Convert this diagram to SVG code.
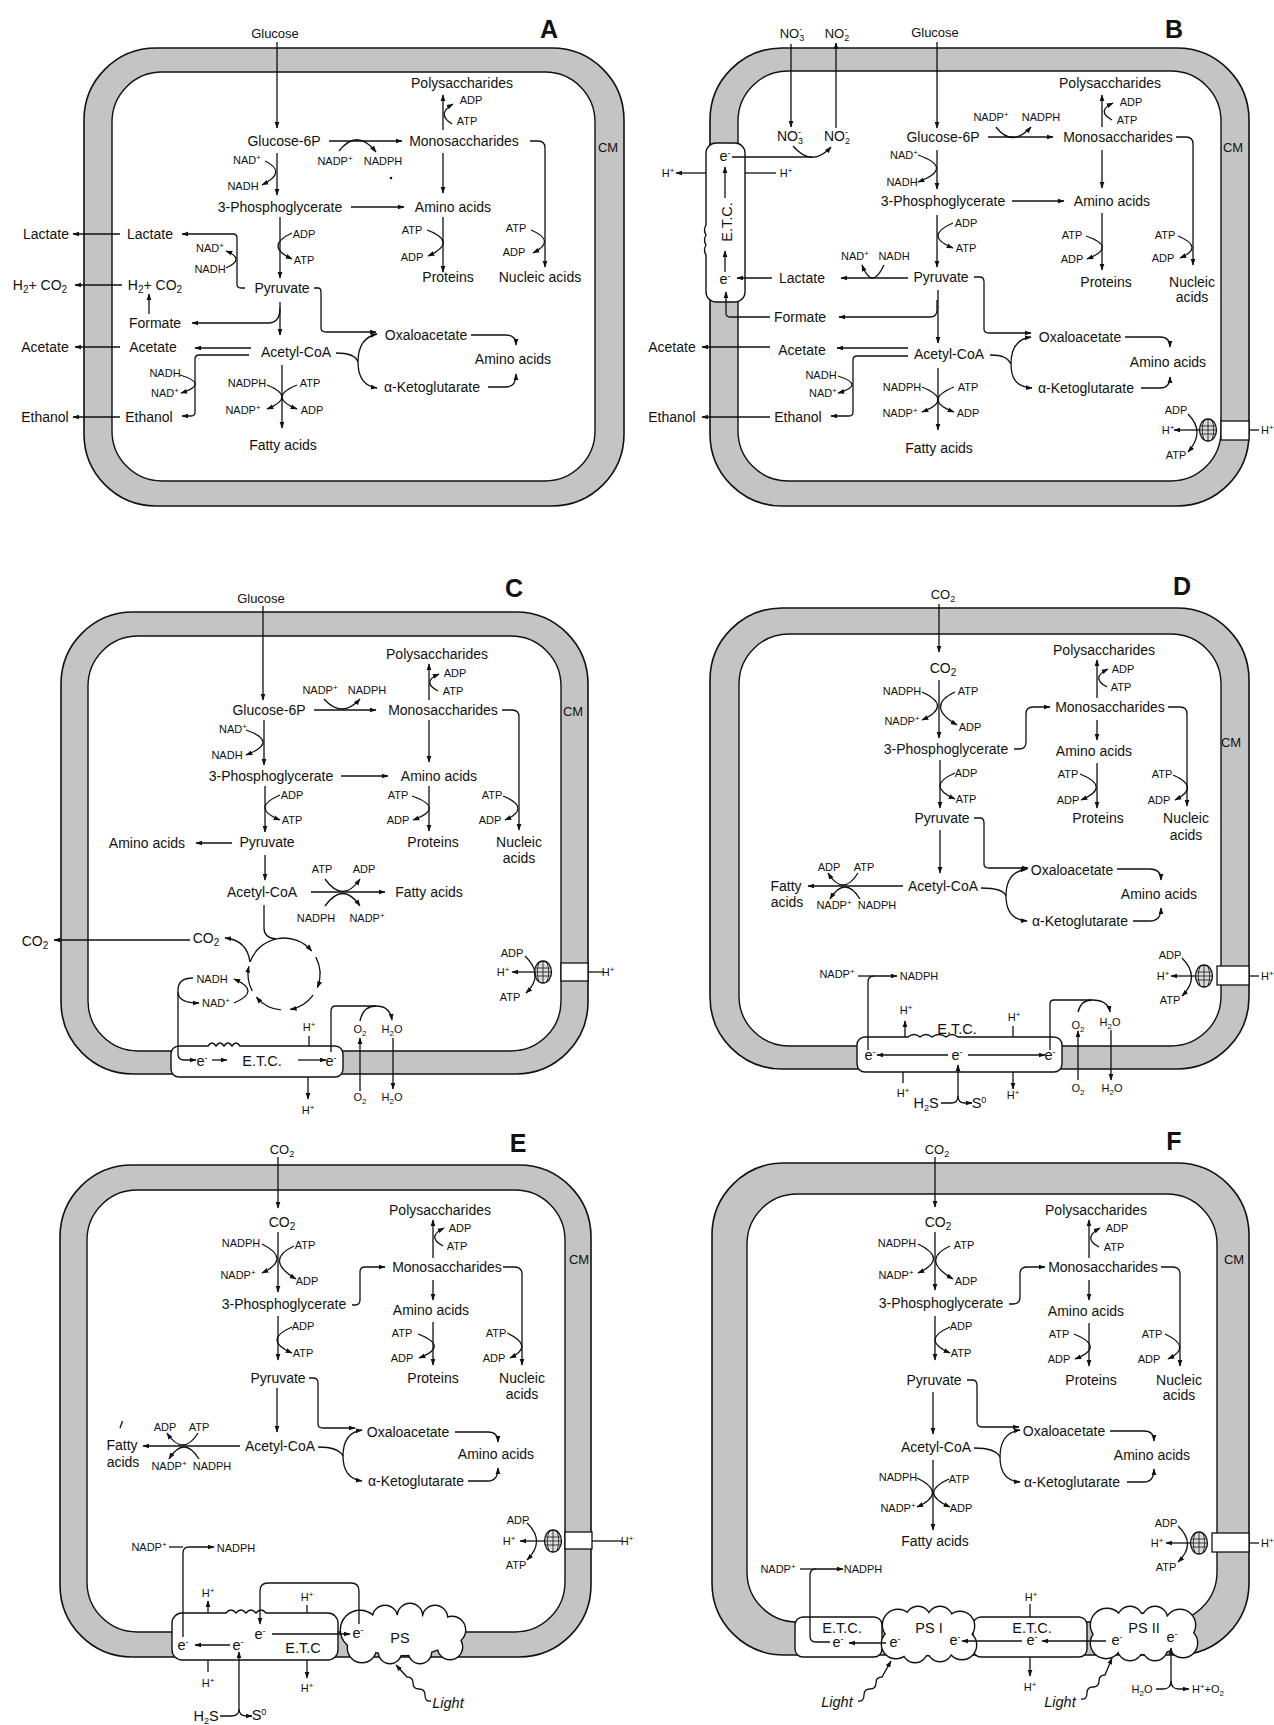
<svg xmlns="http://www.w3.org/2000/svg" xmlns:xlink="http://www.w3.org/1999/xlink" width="1274" height="1725" viewBox="0 0 1274 1725">
<style>
text{font-family:"Liberation Sans",Arial,sans-serif;text-anchor:middle;fill:#111;font-size:14px}
.s{font-size:11px}
.m{font-size:13px}
.e{font-size:14.5px}
.L{font-size:25px;font-weight:bold}
.i{font-size:14.5px;font-style:italic}
.l{fill:none;stroke:#111;stroke-width:1.3}
.a{marker-end:url(#ah)}
.mo{fill:#c4c4c4;stroke:#111;stroke-width:1.6}
.mi{fill:#fff;stroke:#111;stroke-width:1.4}
.bx{fill:#fff;stroke:#111;stroke-width:1.4}
.ch{fill:#fff;stroke:#111;stroke-width:1.3}
</style>
<defs>
<marker id="ah" viewBox="0 0 10 10" refX="9" refY="5" markerWidth="7" markerHeight="7" markerUnits="userSpaceOnUse" orient="auto"><path d="M0,1.5 L10,5 L0,8.5 z" fill="#111"/></marker>
<g id="syn"><ellipse rx="8.5" ry="11" fill="#ddd" stroke="#111" stroke-width="1.3"/><path d="M-4,-9.5 Q-7.5,0 -4,9.5 M0,-11 V11 M4,-9.5 Q7.5,0 4,9.5 M-8,-4 H8 M-8.5,0 H8.5 M-8,4 H8" fill="none" stroke="#111" stroke-width="0.8"/></g>
<g id="psE"><circle cx="360" cy="1630" r="19"/><circle cx="385" cy="1618" r="12"/><circle cx="410" cy="1616" r="12"/><circle cx="435" cy="1618" r="12"/><circle cx="452" cy="1630" r="13"/><circle cx="450" cy="1647" r="12"/><circle cx="420" cy="1652" r="11"/><circle cx="390" cy="1652" r="11"/><circle cx="362" cy="1648" r="14"/><ellipse cx="403" cy="1635" rx="50" ry="20"/></g>
<g id="ps1"><circle cx="898" cy="1625" r="15"/><circle cx="918" cy="1619" r="12"/><circle cx="940" cy="1619" r="12"/><circle cx="960" cy="1626" r="14"/><circle cx="962" cy="1645" r="14"/><circle cx="940" cy="1649" r="12"/><circle cx="915" cy="1650" r="12"/><circle cx="896" cy="1644" r="14"/><ellipse cx="929" cy="1635" rx="38" ry="20"/></g>
<g id="ps2"><circle cx="1107" cy="1625" r="16"/><circle cx="1130" cy="1619" r="12"/><circle cx="1155" cy="1619" r="12"/><circle cx="1180" cy="1625" r="15"/><circle cx="1183" cy="1643" r="14"/><circle cx="1155" cy="1648" r="12"/><circle cx="1130" cy="1648" r="12"/><circle cx="1106" cy="1643" r="15"/><ellipse cx="1144" cy="1634" rx="44" ry="20"/></g>
</defs>
<rect width="1274" height="1725" fill="#fff"/>

<!-- ================= PANEL A ================= -->
<g id="cellA"><rect class="mo" x="84" y="48" width="540" height="458" rx="72"/><rect class="mi" x="112" y="72" width="483" height="409" rx="50"/></g>
<g id="connectorsA">
<path class="l a" d="M277,42 V128"/>
<path class="l a" d="M329,141 H402"/>
<path class="l a" d="M339,151 Q357,128 376,152"/>
<path class="l a" d="M443,130 V95"/>
<path class="l a" d="M452,124 Q436,114 453,104"/>
<path class="l a" d="M277,153 V195"/>
<path class="l a" d="M265,161 Q288,172 262,185"/>
<path class="l a" d="M351,207 H404"/>
<path class="l a" d="M443,153 V193"/>
<path class="l a" d="M530,141 H538 Q545,141 545,148 V267"/>
<path class="l a" d="M531,230 Q557,241 533,253"/>
<path class="l a" d="M443,217 V272"/>
<path class="l a" d="M427,230 Q459,242 428,256"/>
<path class="l a" d="M280,217 V278"/>
<path class="l a" d="M292,233 Q264,246 292,259"/>
<path class="l a" d="M245,288 H241 Q237,288 237,284 V238 Q237,234 233,234 H182"/>
<path class="l a" d="M226,268 Q246,259 226,251"/>
<path class="l a" d="M120,234 H73"/>
<path class="l a" d="M122,285 H75"/>
<path class="l a" d="M149,314 V294"/>
<path class="l a" d="M280,302 V335"/>
<path class="l a" d="M280,308 Q280,323 268,323 H192"/>
<path class="l a" d="M314,288 H318 Q321,288 321,292 V328 Q321,332 326,332 H376"/>
<path class="l a" d="M251,348 H195"/>
<path class="l a" d="M120,347 H75"/>
<path class="l a" d="M249,355 H199 Q195,355 195,359 V412 Q195,416 191,416 H182"/>
<path class="l a" d="M180,375 Q210,384 181,393"/>
<path class="l a" d="M120,417 H73"/>
<path class="l a" d="M282,365 V428"/>
<path class="l a" d="M267,385 Q297,397 267,409"/>
<path class="l a" d="M297,385 Q267,397 297,409"/>
<path class="l" d="M336,353 C349,353 356,356 358,362"/>
<path class="l a" d="M358,362 C358,348 363,337 377,334"/>
<path class="l a" d="M358,362 C358,376 363,386 377,388"/>
<path class="l a" d="M471,335 H506 Q516,335 516,345"/>
<path class="l a" d="M488,387 H506 Q516,387 516,374"/>
<circle cx="391" cy="178" r="1.3" fill="#111"/>
</g>
<g id="nodesA">
<text class="L" x="549" y="38">A</text>
<text class="m" x="275" y="38">Glucose</text>
<text x="284" y="146">Glucose-6P</text>
<text x="464" y="146">Monosaccharides</text>
<text x="462" y="88">Polysaccharides</text>
<text class="s" x="471" y="104">ADP</text>
<text class="s" x="467" y="125">ATP</text>
<text class="s" x="335" y="165">NADP<tspan dy="-4" font-size="8">+</tspan></text>
<text class="s" x="383" y="165">NADPH</text>
<text class="s" x="247" y="164">NAD<tspan dy="-4" font-size="8">+</tspan></text>
<text class="s" x="243" y="190">NADH</text>
<text x="280" y="212">3-Phosphoglycerate</text>
<text x="453" y="212">Amino acids</text>
<text class="s" x="304" y="238">ADP</text>
<text class="s" x="304" y="264">ATP</text>
<text class="s" x="412" y="234">ATP</text>
<text class="s" x="412" y="261">ADP</text>
<text class="s" x="516" y="232">ATP</text>
<text class="s" x="514" y="256">ADP</text>
<text x="448" y="282">Proteins</text>
<text x="540" y="282">Nucleic acids</text>
<text x="150" y="239">Lactate</text>
<text x="46" y="239">Lactate</text>
<text class="s" x="210" y="252">NAD<tspan dy="-4" font-size="8">+</tspan></text>
<text class="s" x="210" y="273">NADH</text>
<text x="155" y="290">H<tspan dy="3" font-size="10">2</tspan><tspan dy="-3">+ CO</tspan><tspan dy="3" font-size="10">2</tspan></text>
<text x="40" y="290">H<tspan dy="3" font-size="10">2</tspan><tspan dy="-3">+ CO</tspan><tspan dy="3" font-size="10">2</tspan></text>
<text x="282" y="293">Pyruvate</text>
<text x="155" y="328">Formate</text>
<text x="426" y="340">Oxaloacetate</text>
<text x="153" y="352">Acetate</text>
<text x="45" y="352">Acetate</text>
<text x="296" y="357">Acetyl-CoA</text>
<text x="513" y="364">Amino acids</text>
<text class="s" x="165" y="377">NADH</text>
<text class="s" x="165" y="397">NAD<tspan dy="-4" font-size="8">+</tspan></text>
<text class="s" x="247" y="387">NADPH</text>
<text class="s" x="310" y="387">ATP</text>
<text class="s" x="243" y="414">NADP<tspan dy="-4" font-size="8">+</tspan></text>
<text class="s" x="312" y="414">ADP</text>
<text x="432" y="392">α-Ketoglutarate</text>
<text x="149" y="422">Ethanol</text>
<text x="45" y="422">Ethanol</text>
<text x="283" y="450">Fatty acids</text>
<text class="m" x="608" y="152">CM</text>
</g>

<!-- ================= PANEL B ================= -->
<g id="cellB"><rect class="mo" x="710" y="48" width="539" height="458" rx="72"/><rect class="mi" x="738" y="71" width="483" height="410" rx="50"/>
<path class="bx" d="M716,143 H735 A10,10 0 0 1 745,153 V292 A10,10 0 0 1 735,302 H716 A10,10 0 0 1 706,292 V255 q-3,-5 0,-10 q-3,-5 0,-10 q-3,-5 0,-10 V153 A10,10 0 0 1 716,143 Z"/>
<rect class="ch" x="1221" y="421" width="28" height="19"/>
<use xlink:href="#syn" x="1208" y="430"/>
</g>
<g id="connectorsB">
<path class="l a" d="M937,42 V128"/>
<path class="l a" d="M791,44 V127"/>
<path class="l a" d="M836,128 V43"/>
<path class="l a" d="M793,146 Q812,168 831,147"/>
<path class="l" d="M732,157 H812"/>
<path class="l a" d="M725,272 V251"/>
<path class="l a" d="M725,198 V167"/>
<path class="l a" d="M706,173 H676"/>
<path class="l" d="M776,173 H745"/>
<path class="l a" d="M772,278 H737"/>
<path class="l a" d="M770,317 H730 Q726,317 726,313 V292"/>
<path class="l a" d="M988,137 H1053"/>
<path class="l a" d="M996,127 Q1012,148 1031,127"/>
<path class="l a" d="M1102,127 V95"/>
<path class="l a" d="M1112,120 Q1096,111 1113,103"/>
<path class="l a" d="M1176,137 H1186 Q1193,137 1193,144 V265"/>
<path class="l a" d="M1178,236 Q1205,247 1180,258"/>
<path class="l a" d="M1102,150 V188"/>
<path class="l a" d="M937,150 V189"/>
<path class="l a" d="M918,155 Q955,168 918,182"/>
<path class="l a" d="M1012,201 H1064"/>
<path class="l a" d="M937,215 V267"/>
<path class="l a" d="M953,223 Q923,236 953,248"/>
<path class="l a" d="M1102,213 V270"/>
<path class="l a" d="M1086,236 Q1118,247 1087,259"/>
<path class="l a" d="M908,278 H841"/>
<path class="l a" d="M884,265 Q872,291 862,265"/>
<path class="l a" d="M937,300 V310 Q937,317 930,317 H839"/>
<path class="l a" d="M974,277 H980 Q984,277 984,282 V329 Q984,333 989,333 H1031"/>
<path class="l a" d="M938,290 V343"/>
<path class="l a" d="M908,348 H837"/>
<path class="l a" d="M770,347 H702"/>
<path class="l a" d="M908,356 H857 Q853,356 853,360 V412 Q853,416 849,416 H831"/>
<path class="l a" d="M838,376 Q866,385 838,393"/>
<path class="l a" d="M770,417 H702"/>
<path class="l a" d="M938,368 V430"/>
<path class="l a" d="M922,387 Q954,400 922,412"/>
<path class="l a" d="M954,387 Q922,400 954,412"/>
<path class="l" d="M990,355 C1003,355 1008,358 1011,364"/>
<path class="l a" d="M1011,364 C1011,350 1016,339 1031,337"/>
<path class="l a" d="M1011,364 C1011,378 1016,387 1032,388"/>
<path class="l a" d="M1125,337 H1160 Q1170,337 1170,347"/>
<path class="l a" d="M1141,388 H1160 Q1170,388 1170,377"/>
<path class="l" d="M1259,430 H1249"/>
<path class="l a" d="M1199,430 H1174"/>
<path class="l a" d="M1188,414 Q1206,432 1188,452"/>
</g>
<g id="nodesB">
<text class="L" x="1174" y="38">B</text>
<text class="m" x="935" y="37">Glucose</text>
<text class="m" x="792" y="38">NO<tspan dy="3" font-size="9">3</tspan><tspan dy="-9" dx="-5" font-size="9">-</tspan></text>
<text class="m" x="837" y="38">NO<tspan dy="3" font-size="9">2</tspan><tspan dy="-9" dx="-5" font-size="9">-</tspan></text>
<text x="790" y="141">NO<tspan dy="3" font-size="9">3</tspan><tspan dy="-9" dx="-5" font-size="9">-</tspan></text>
<text x="837" y="141">NO<tspan dy="3" font-size="9">2</tspan><tspan dy="-9" dx="-5" font-size="9">-</tspan></text>
<text class="e" x="725" y="161">e<tspan dy="-5" font-size="9">-</tspan></text>
<text class="e" x="725" y="284">e<tspan dy="-5" font-size="9">-</tspan></text>
<text class="e" x="727" y="227" transform="rotate(-90 727 222)">E.T.C.</text>
<text class="s" x="668" y="177">H<tspan dy="-4" font-size="8">+</tspan></text>
<text class="s" x="786" y="177">H<tspan dy="-4" font-size="8">+</tspan></text>
<text class="s" x="991" y="121">NADP<tspan dy="-4" font-size="8">+</tspan></text>
<text class="s" x="1041" y="121">NADPH</text>
<text x="943" y="142">Glucose-6P</text>
<text x="1118" y="142">Monosaccharides</text>
<text x="1110" y="88">Polysaccharides</text>
<text class="s" x="1131" y="106">ADP</text>
<text class="s" x="1127" y="124">ATP</text>
<text class="s" x="904" y="159">NAD<tspan dy="-4" font-size="8">+</tspan></text>
<text class="s" x="902" y="186">NADH</text>
<text x="943" y="206">3-Phosphoglycerate</text>
<text x="1112" y="206">Amino acids</text>
<text class="s" x="966" y="227">ADP</text>
<text class="s" x="966" y="252">ATP</text>
<text class="s" x="1072" y="239">ATP</text>
<text class="s" x="1072" y="263">ADP</text>
<text class="s" x="1165" y="239">ATP</text>
<text class="s" x="1163" y="262">ADP</text>
<text class="s" x="855" y="260">NAD<tspan dy="-4" font-size="8">+</tspan></text>
<text class="s" x="894" y="260">NADH</text>
<text x="941" y="282">Pyruvate</text>
<text x="802" y="283">Lactate</text>
<text x="1106" y="287">Proteins</text>
<text x="1192" y="287">Nucleic</text>
<text x="1192" y="302">acids</text>
<text x="800" y="322">Formate</text>
<text x="1080" y="342">Oxaloacetate</text>
<text x="802" y="355">Acetate</text>
<text x="672" y="352">Acetate</text>
<text x="949" y="359">Acetyl-CoA</text>
<text x="1168" y="367">Amino acids</text>
<text class="s" x="821" y="379">NADH</text>
<text class="s" x="823" y="397">NAD<tspan dy="-4" font-size="8">+</tspan></text>
<text class="s" x="902" y="391">NADPH</text>
<text class="s" x="968" y="391">ATP</text>
<text class="s" x="900" y="417">NADP<tspan dy="-4" font-size="8">+</tspan></text>
<text class="s" x="968" y="417">ADP</text>
<text x="1086" y="393">α-Ketoglutarate</text>
<text x="798" y="422">Ethanol</text>
<text x="672" y="422">Ethanol</text>
<text x="939" y="453">Fatty acids</text>
<text class="m" x="1233" y="152">CM</text>
<text class="s" x="1176" y="414">ADP</text>
<text class="s" x="1168" y="434">H<tspan dy="-4" font-size="8">+</tspan></text>
<text class="s" x="1176" y="459">ATP</text>
<text class="s" x="1261" y="434" style="text-anchor:start">H<tspan dy="-4" font-size="8">+</tspan></text>
</g>

<!-- ================= PANEL C ================= -->
<g id="cellC"><rect class="mo" x="61" y="612" width="527" height="462" rx="72"/><rect class="mi" x="88" y="636" width="473" height="415" rx="50"/>
<path class="bx" d="M179,1046 H208 Q212,1040 216,1046 Q220,1040 224,1046 Q228,1040 232,1046 Q236,1040 240,1046 H335 A8,8 0 0 1 343,1054 V1069 A8,8 0 0 1 335,1077 H179 A8,8 0 0 1 171,1069 V1054 A8,8 0 0 1 179,1046 Z"/>
<rect class="ch" x="561" y="963" width="27" height="18"/>
<use xlink:href="#syn" x="543" y="972"/>
</g>
<g id="connectorsC">
<path class="l a" d="M263,606 V700"/>
<path class="l a" d="M314,710 H376"/>
<path class="l a" d="M324,699 Q342,719 360,699"/>
<path class="l a" d="M429,700 V664"/>
<path class="l a" d="M438,691 Q421,682 439,674"/>
<path class="l a" d="M502,710 H512 Q519,710 519,717 V830"/>
<path class="l a" d="M503,796 Q532,808 505,820"/>
<path class="l a" d="M429,720 V762"/>
<path class="l a" d="M264,720 V765"/>
<path class="l a" d="M246,730 Q280,742 246,755"/>
<path class="l a" d="M341,776 H388"/>
<path class="l a" d="M265,786 V832"/>
<path class="l a" d="M280,795 Q250,808 280,820"/>
<path class="l a" d="M429,786 V831"/>
<path class="l a" d="M412,796 Q446,808 413,820"/>
<path class="l a" d="M232,843 H196"/>
<path class="l a" d="M265,855 V880"/>
<path class="l a" d="M311,892 H385"/>
<path class="l a" d="M325,879 Q343,904 360,879"/>
<path class="l a" d="M325,906 Q343,881 360,906"/>
<path class="l" d="M264,905 V928 Q264,938 276,939"/>
<path class="l a" d="M250.2,961.7 A36,36 0 0 1 311.6,950.9"/>
<path class="l a" d="M315.8,957.1 A36,36 0 0 1 317.4,987.5"/>
<path class="l a" d="M313.1,995.2 A36,36 0 0 1 290.3,1009.5"/>
<path class="l a" d="M280.9,1009.9 A36,36 0 0 1 256.4,997.1"/>
<path class="l a" d="M252.2,990.9 A36,36 0 0 1 248.8,966.5"/>
<path class="l a" d="M250,962 Q247,940 225,938"/>
<path class="l a" d="M190,940 H54"/>
<path class="l a" d="M234,1003 Q262,991 234,979"/>
<path class="l a" d="M193,978 Q178,978 178,990 V1054 Q178,1060 184,1060 H196"/>
<path class="l a" d="M178,992 Q178,1003 199,1003"/>
<path class="l a" d="M212,1060 H227"/>
<path class="l a" d="M298,1060 H326"/>
<path class="l" d="M309,1036 V1046"/>
<path class="l a" d="M308,1077 V1099"/>
<path class="l a" d="M331,1052 V1011 Q331,1006 336,1006 H376 Q390,1006 392,1020"/>
<path class="l" d="M360,1021 Q363,1006 376,1006"/>
<path class="l a" d="M360,1091 V1038"/>
<path class="l a" d="M393,1038 V1089"/>
<path class="l" d="M604,972 H588"/>
<path class="l a" d="M534,972 H512"/>
<path class="l a" d="M525,956 Q545,975 526,993"/>
</g>
<g id="nodesC">
<text class="L" x="514" y="597">C</text>
<text class="m" x="261" y="603">Glucose</text>
<text x="437" y="659">Polysaccharides</text>
<text class="s" x="455" y="677">ADP</text>
<text class="s" x="453" y="695">ATP</text>
<text class="s" x="320" y="694">NADP<tspan dy="-4" font-size="8">+</tspan></text>
<text class="s" x="367" y="694">NADPH</text>
<text x="269" y="715">Glucose-6P</text>
<text x="443" y="715">Monosaccharides</text>
<text class="m" x="573" y="716">CM</text>
<text class="s" x="233" y="733">NAD<tspan dy="-4" font-size="8">+</tspan></text>
<text class="s" x="227" y="759">NADH</text>
<text x="271" y="781">3-Phosphoglycerate</text>
<text x="439" y="781">Amino acids</text>
<text class="s" x="292" y="799">ADP</text>
<text class="s" x="292" y="824">ATP</text>
<text class="s" x="398" y="799">ATP</text>
<text class="s" x="398" y="824">ADP</text>
<text class="s" x="492" y="799">ATP</text>
<text class="s" x="490" y="824">ADP</text>
<text x="147" y="848">Amino acids</text>
<text x="267" y="847">Pyruvate</text>
<text x="433" y="847">Proteins</text>
<text x="519" y="847">Nucleic</text>
<text x="519" y="863">acids</text>
<text class="s" x="322" y="873">ATP</text>
<text class="s" x="364" y="873">ADP</text>
<text x="262" y="897">Acetyl-CoA</text>
<text x="429" y="897">Fatty acids</text>
<text class="s" x="316" y="922">NADPH</text>
<text class="s" x="367" y="922">NADP<tspan dy="-4" font-size="8">+</tspan></text>
<text x="206" y="943">CO<tspan dy="3" font-size="10">2</tspan></text>
<text x="35" y="946">CO<tspan dy="3" font-size="10">2</tspan></text>
<text class="s" x="212" y="983">NADH</text>
<text class="s" x="216" y="1007">NAD<tspan dy="-4" font-size="8">+</tspan></text>
<text class="s" x="512" y="957">ADP</text>
<text class="s" x="503" y="976">H<tspan dy="-4" font-size="8">+</tspan></text>
<text class="s" x="510" y="1001">ATP</text>
<text class="s" x="608" y="976">H<tspan dy="-4" font-size="8">+</tspan></text>
<text class="s" x="309" y="1031">H<tspan dy="-4" font-size="8">+</tspan></text>
<text class="s" x="360" y="1033">O<tspan dy="3" font-size="8">2</tspan></text>
<text class="s" x="392" y="1033">H<tspan dy="3" font-size="8">2</tspan><tspan dy="-3">O</tspan></text>
<text class="e" x="202" y="1066">e<tspan dy="-5" font-size="9">-</tspan></text>
<text class="e" x="262" y="1066">E.T.C.</text>
<text class="e" x="331" y="1066">e<tspan dy="-5" font-size="9">-</tspan></text>
<text class="s" x="360" y="1101">O<tspan dy="3" font-size="8">2</tspan></text>
<text class="s" x="392" y="1101">H<tspan dy="3" font-size="8">2</tspan><tspan dy="-3">O</tspan></text>
<text class="s" x="308" y="1114">H<tspan dy="-4" font-size="8">+</tspan></text>
</g>

<!-- ================= PANEL D ================= -->
<g id="cellD"><rect class="mo" x="710" y="608" width="539" height="461" rx="72"/><rect class="mi" x="739" y="634" width="482" height="412" rx="50"/>
<path class="bx" d="M865,1037 H908 q6,-5 12,0 q6,-5 12,0 q7,-5 14,0 q6,-5 12,0 H1054 A8,8 0 0 1 1062,1045 V1064 A8,8 0 0 1 1054,1072 H865 A8,8 0 0 1 857,1064 V1045 A8,8 0 0 1 865,1037 Z"/>
<rect class="ch" x="1217" y="966" width="32" height="19"/>
<use xlink:href="#syn" x="1204" y="976"/>
</g>
<g id="connectorsD">
<path class="l a" d="M939,604 V652"/>
<path class="l a" d="M939,680 V738"/>
<path class="l a" d="M922,692 Q953,706 922,720"/>
<path class="l a" d="M955,692 Q925,706 957,725"/>
<path class="l a" d="M1014,749 H1019 Q1026,749 1026,742 V714 Q1026,707 1033,707 H1050"/>
<path class="l a" d="M1097,698 V660"/>
<path class="l a" d="M1107,687 Q1090,678 1108,669"/>
<path class="l a" d="M1168,707 H1180 Q1187,707 1187,714 V806"/>
<path class="l a" d="M1173,775 Q1201,787 1175,800"/>
<path class="l a" d="M1097,720 V740"/>
<path class="l a" d="M940,760 V808"/>
<path class="l a" d="M955,773 Q925,786 955,799"/>
<path class="l a" d="M1097,763 V808"/>
<path class="l a" d="M1080,774 Q1112,787 1081,800"/>
<path class="l a" d="M940,830 V873"/>
<path class="l a" d="M974,818 H980 Q984,818 984,823 V864 Q984,868 989,868 H1028"/>
<path class="l a" d="M903,886 H808"/>
<path class="l a" d="M858,873 Q843,897 828,873"/>
<path class="l a" d="M860,899 Q845,875 830,899"/>
<path class="l" d="M981,888 C996,888 1004,890 1006,896"/>
<path class="l a" d="M1006,896 C1006,882 1011,871 1027,869"/>
<path class="l a" d="M1006,896 C1006,910 1011,920 1027,921"/>
<path class="l a" d="M1117,869 H1150 Q1161,869 1161,880"/>
<path class="l a" d="M1133,921 H1150 Q1161,921 1161,908"/>
<path class="l" d="M1259,976 H1249"/>
<path class="l a" d="M1195,976 H1171"/>
<path class="l a" d="M1182,958 Q1201,977 1182,996"/>
<path class="l" d="M858,976 H874"/>
<path class="l a" d="M868,1050 V982 Q868,976 874,976 H897"/>
<path class="l a" d="M948,1055 H877"/>
<path class="l a" d="M968,1055 H1045"/>
<path class="l a" d="M905,1037 V1021"/>
<path class="l" d="M1013,1026 V1037"/>
<path class="l" d="M903,1072 V1083"/>
<path class="l a" d="M1013,1072 V1089"/>
<path class="l a" d="M941,1103 H951 Q958,1103 958,1096 V1065"/>
<path class="l a" d="M958,1096 Q958,1103 965,1103 H972"/>
<path class="l a" d="M1050,1050 V1004 Q1050,1000 1054,1000 H1092 Q1108,1000 1110,1012"/>
<path class="l" d="M1078,1012 Q1081,1000 1092,1000"/>
<path class="l a" d="M1078,1080 V1031"/>
<path class="l a" d="M1111,1030 V1080"/>
</g>
<g id="nodesD">
<text class="L" x="1182" y="595">D</text>
<text class="m" x="943" y="599">CO<tspan dy="3" font-size="9">2</tspan></text>
<text x="943" y="673">CO<tspan dy="3" font-size="10">2</tspan></text>
<text x="1104" y="655">Polysaccharides</text>
<text class="s" x="1123" y="673">ADP</text>
<text class="s" x="1121" y="691">ATP</text>
<text class="s" x="902" y="695">NADPH</text>
<text class="s" x="968" y="695">ATP</text>
<text class="s" x="902" y="725">NADP<tspan dy="-4" font-size="8">+</tspan></text>
<text class="s" x="970" y="731">ADP</text>
<text x="1110" y="712">Monosaccharides</text>
<text class="m" x="1231" y="747">CM</text>
<text x="946" y="754">3-Phosphoglycerate</text>
<text x="1094" y="756">Amino acids</text>
<text class="s" x="966" y="777">ADP</text>
<text class="s" x="966" y="803">ATP</text>
<text class="s" x="1068" y="778">ATP</text>
<text class="s" x="1068" y="804">ADP</text>
<text class="s" x="1162" y="778">ATP</text>
<text class="s" x="1159" y="804">ADP</text>
<text x="942" y="823">Pyruvate</text>
<text x="1098" y="823">Proteins</text>
<text x="1186" y="823">Nucleic</text>
<text x="1186" y="840">acids</text>
<text class="s" x="829" y="871">ADP</text>
<text class="s" x="864" y="871">ATP</text>
<text x="1072" y="875">Oxaloacetate</text>
<text x="786" y="891">Fatty</text>
<text x="787" y="907">acids</text>
<text x="943" y="891">Acetyl-CoA</text>
<text x="1159" y="899">Amino acids</text>
<text class="s" x="834" y="909">NADP<tspan dy="-4" font-size="8">+</tspan></text>
<text class="s" x="877" y="909">NADPH</text>
<text x="1080" y="926">α-Ketoglutarate</text>
<text class="s" x="1170" y="959">ADP</text>
<text class="s" x="1163" y="980">H<tspan dy="-4" font-size="8">+</tspan></text>
<text class="s" x="1170" y="1004">ATP</text>
<text class="s" x="1261" y="980" style="text-anchor:start">H<tspan dy="-4" font-size="8">+</tspan></text>
<text class="s" x="837" y="978">NADP<tspan dy="-4" font-size="8">+</tspan></text>
<text class="s" x="919" y="980">NADPH</text>
<text class="s" x="906" y="1014">H<tspan dy="-4" font-size="8">+</tspan></text>
<text class="e" x="957" y="1034">E.T.C.</text>
<text class="s" x="1014" y="1021">H<tspan dy="-4" font-size="8">+</tspan></text>
<text class="s" x="1078" y="1029">O<tspan dy="3" font-size="8">2</tspan></text>
<text class="s" x="1110" y="1026">H<tspan dy="3" font-size="8">2</tspan><tspan dy="-3">O</tspan></text>
<text class="e" x="870" y="1060">e<tspan dy="-5" font-size="9">-</tspan></text>
<text class="e" x="957" y="1060">e<tspan dy="-5" font-size="9">-</tspan></text>
<text class="e" x="1050" y="1060">e<tspan dy="-5" font-size="9">-</tspan></text>
<text class="s" x="1078" y="1092">O<tspan dy="3" font-size="8">2</tspan></text>
<text class="s" x="1112" y="1092">H<tspan dy="3" font-size="8">2</tspan><tspan dy="-3">O</tspan></text>
<text class="s" x="903" y="1097">H<tspan dy="-4" font-size="8">+</tspan></text>
<text class="e" x="926" y="1108">H<tspan dy="3" font-size="9">2</tspan><tspan dy="-3">S</tspan></text>
<text class="e" x="979" y="1108">S<tspan dy="-5" font-size="9">0</tspan></text>
<text class="s" x="1013" y="1099">H<tspan dy="-4" font-size="8">+</tspan></text>
</g>

<!-- ================= PANEL E ================= -->
<g id="cellE"><rect class="mo" x="60" y="1165" width="531" height="492" rx="72"/><rect class="mi" x="87" y="1190" width="478" height="442" rx="50"/>
<path class="bx" d="M182,1613 H226 Q231,1607 236,1613 Q241,1607 246,1613 Q251,1607 256,1613 Q261,1607 266,1613 H328 A10,10 0 0 1 338,1623 V1650 A10,10 0 0 1 328,1660 H182 A10,10 0 0 1 172,1650 V1623 A10,10 0 0 1 182,1613 Z"/>
<use xlink:href="#psE" fill="#fff" stroke="#111" stroke-width="2.8"/>
<use xlink:href="#psE" fill="#fff" stroke="none"/>
<rect class="ch" x="565" y="1532" width="27" height="17"/>
<use xlink:href="#syn" x="553" y="1541"/>
</g>
<g id="connectorsE">
<path class="l a" d="M278,1157 V1208"/>
<path class="l a" d="M278,1232 V1292"/>
<path class="l a" d="M262,1244 Q292,1259 262,1273"/>
<path class="l a" d="M294,1246 Q264,1260 296,1279"/>
<path class="l a" d="M352,1305 H355 Q360,1305 360,1300 V1272 Q360,1267 365,1267 H385"/>
<path class="l a" d="M433,1258 V1220"/>
<path class="l a" d="M443,1246 Q426,1237 444,1228"/>
<path class="l a" d="M503,1267 H514 Q522,1267 522,1274 V1365"/>
<path class="l a" d="M507,1333 Q535,1346 510,1358"/>
<path class="l a" d="M433,1280 V1300"/>
<path class="l a" d="M278,1316 V1360"/>
<path class="l a" d="M292,1327 Q262,1340 292,1353"/>
<path class="l a" d="M433,1322 V1365"/>
<path class="l a" d="M418,1334 Q450,1346 419,1358"/>
<path class="l a" d="M277,1388 V1432"/>
<path class="l a" d="M309,1378 H313 Q318,1378 318,1383 V1424 Q318,1428 323,1428 H355"/>
<path class="l a" d="M240,1446 H143"/>
<path class="l a" d="M198,1433 Q183,1457 167,1433"/>
<path class="l a" d="M199,1459 Q184,1435 169,1459"/>
<path class="l" d="M318,1447 C332,1447 340,1450 343,1456"/>
<path class="l a" d="M343,1456 C343,1442 348,1432 362,1430"/>
<path class="l a" d="M343,1456 C343,1470 348,1479 362,1481"/>
<path class="l a" d="M455,1432 H488 Q498,1432 498,1442"/>
<path class="l a" d="M468,1481 H488 Q498,1481 498,1468"/>
<path class="l" d="M120,1428 L122.5,1421" stroke-width="1"/>
<path class="l" d="M622,1541 H592"/>
<path class="l a" d="M544,1541 H520"/>
<path class="l a" d="M527,1523 Q546,1541 527,1560"/>
<path class="l" d="M169,1547 H183"/>
<path class="l a" d="M183,1637 V1553 Q183,1547 189,1547 H214"/>
<path class="l a" d="M230,1645 H195"/>
<path class="l a" d="M272,1634 H350"/>
<path class="l a" d="M359,1624 V1591 Q359,1583 351,1583 H268 Q260,1583 260,1591 V1624"/>
<path class="l" d="M307,1605 V1613"/>
<path class="l a" d="M208,1613 V1601"/>
<path class="l" d="M208,1660 V1672"/>
<path class="l a" d="M307,1660 V1678"/>
<path class="l a" d="M239,1709 V1652"/>
<path class="l" d="M220,1716 H231 Q239,1716 239,1709"/>
<path class="l a" d="M239,1709 Q239,1716 247,1716 H252"/>
<path class="l a" d="M431,1701 q-6,1 -6,-6 q0,-6 -6,-6 q-6,0 -6,-6 q0,-6 -6,-6 L396,1665"/>
</g>
<g id="nodesE">
<text class="L" x="518" y="1152">E</text>
<text class="m" x="282" y="1154">CO<tspan dy="3" font-size="9">2</tspan></text>
<text x="282" y="1227">CO<tspan dy="3" font-size="10">2</tspan></text>
<text x="440" y="1215">Polysaccharides</text>
<text class="s" x="460" y="1232">ADP</text>
<text class="s" x="457" y="1250">ATP</text>
<text class="s" x="241" y="1247">NADPH</text>
<text class="s" x="305" y="1249">ATP</text>
<text class="s" x="238" y="1279">NADP<tspan dy="-4" font-size="8">+</tspan></text>
<text class="s" x="307" y="1285">ADP</text>
<text x="447" y="1272">Monosaccharides</text>
<text class="m" x="579" y="1264">CM</text>
<text x="284" y="1309">3-Phosphoglycerate</text>
<text x="431" y="1315">Amino acids</text>
<text class="s" x="303" y="1330">ADP</text>
<text class="s" x="303" y="1357">ATP</text>
<text class="s" x="402" y="1337">ATP</text>
<text class="s" x="402" y="1362">ADP</text>
<text class="s" x="496" y="1337">ATP</text>
<text class="s" x="494" y="1362">ADP</text>
<text x="278" y="1383">Pyruvate</text>
<text x="433" y="1383">Proteins</text>
<text x="522" y="1383">Nucleic</text>
<text x="522" y="1399">acids</text>
<text class="s" x="165" y="1431">ADP</text>
<text class="s" x="199" y="1431">ATP</text>
<text x="408" y="1437">Oxaloacetate</text>
<text x="122" y="1450">Fatty</text>
<text x="123" y="1467">acids</text>
<text x="280" y="1451">Acetyl-CoA</text>
<text x="496" y="1459">Amino acids</text>
<text class="s" x="169" y="1470">NADP<tspan dy="-4" font-size="8">+</tspan></text>
<text class="s" x="212" y="1470">NADPH</text>
<text x="416" y="1486">α-Ketoglutarate</text>
<text class="s" x="518" y="1524">ADP</text>
<text class="s" x="509" y="1545">H<tspan dy="-4" font-size="8">+</tspan></text>
<text class="s" x="516" y="1569">ATP</text>
<text class="s" x="627" y="1545">H<tspan dy="-4" font-size="8">+</tspan></text>
<text class="s" x="149" y="1551">NADP<tspan dy="-4" font-size="8">+</tspan></text>
<text class="s" x="236" y="1552">NADPH</text>
<text class="s" x="208" y="1597">H<tspan dy="-4" font-size="8">+</tspan></text>
<text class="s" x="307" y="1601">H<tspan dy="-4" font-size="8">+</tspan></text>
<text class="e" x="260" y="1639">e<tspan dy="-5" font-size="9">-</tspan></text>
<text class="e" x="358" y="1638">e<tspan dy="-5" font-size="9">-</tspan></text>
<text class="e" x="400" y="1643">PS</text>
<text class="e" x="183" y="1650">e<tspan dy="-5" font-size="9">-</tspan></text>
<text class="e" x="238" y="1650">e<tspan dy="-5" font-size="9">-</tspan></text>
<text class="e" x="303" y="1653">E.T.C</text>
<text class="s" x="208" y="1687">H<tspan dy="-4" font-size="8">+</tspan></text>
<text class="s" x="307" y="1692">H<tspan dy="-4" font-size="8">+</tspan></text>
<text class="i" x="448" y="1708">Light</text>
<text class="e" x="206" y="1721">H<tspan dy="3" font-size="9">2</tspan><tspan dy="-3">S</tspan></text>
<text class="e" x="259" y="1720">S<tspan dy="-5" font-size="9">0</tspan></text>
</g>

<!-- ================= PANEL F ================= -->
<g id="cellF"><rect class="mo" x="712" y="1163" width="537" height="492" rx="72"/><rect class="mi" x="747" y="1194" width="470" height="428" rx="50"/>
<rect class="bx" x="795" y="1617" width="87" height="40" rx="8"/>
<rect class="bx" x="973" y="1617" width="114" height="40" rx="8"/>
<use xlink:href="#ps1" fill="#fff" stroke="#111" stroke-width="2.8"/>
<use xlink:href="#ps1" fill="#fff" stroke="none"/>
<use xlink:href="#ps2" fill="#fff" stroke="#111" stroke-width="2.8"/>
<use xlink:href="#ps2" fill="#fff" stroke="none"/>
<rect class="ch" x="1212" y="1533" width="37" height="19"/>
<use xlink:href="#syn" x="1199" y="1543"/>
</g>
<g id="connectorsF">
<path class="l a" d="M935,1157 V1207"/>
<path class="l a" d="M935,1232 V1290"/>
<path class="l a" d="M918,1244 Q949,1259 918,1273"/>
<path class="l a" d="M950,1246 Q920,1260 953,1279"/>
<path class="l a" d="M1009,1304 H1013 Q1020,1304 1020,1297 V1274 Q1020,1267 1027,1267 H1045"/>
<path class="l a" d="M1089,1258 V1220"/>
<path class="l a" d="M1099,1247 Q1082,1238 1100,1228"/>
<path class="l a" d="M1161,1267 H1172 Q1180,1267 1180,1274 V1366"/>
<path class="l a" d="M1165,1334 Q1193,1347 1168,1359"/>
<path class="l a" d="M1089,1280 V1300"/>
<path class="l a" d="M935,1316 V1360"/>
<path class="l a" d="M950,1327 Q920,1340 950,1353"/>
<path class="l a" d="M1089,1323 V1366"/>
<path class="l a" d="M1074,1334 Q1106,1347 1075,1359"/>
<path class="l a" d="M933,1392 V1434"/>
<path class="l a" d="M967,1380 H972 Q977,1380 977,1385 V1422 Q977,1427 982,1427 H1019"/>
<path class="l a" d="M933,1460 V1530"/>
<path class="l a" d="M917,1478 Q948,1493 917,1507"/>
<path class="l a" d="M949,1479 Q918,1493 950,1507"/>
<path class="l" d="M974,1448 C987,1448 997,1451 1000,1457"/>
<path class="l a" d="M1000,1457 C1000,1443 1005,1432 1020,1430"/>
<path class="l a" d="M1000,1457 C1000,1471 1005,1481 1020,1482"/>
<path class="l a" d="M1110,1431 H1144 Q1154,1431 1154,1441"/>
<path class="l a" d="M1127,1482 H1144 Q1154,1482 1154,1469"/>
<path class="l" d="M1259,1543 H1249"/>
<path class="l a" d="M1190,1543 H1166"/>
<path class="l a" d="M1178,1526 Q1197,1544 1178,1562"/>
<path class="l" d="M800,1569 H816"/>
<path class="l a" d="M830,1642 H816 Q810,1642 810,1636 V1575 Q810,1569 816,1569 H843"/>
<path class="l a" d="M886,1643 H849"/>
<path class="l a" d="M1022,1641 H962"/>
<path class="l a" d="M1106,1641 H1042"/>
<path class="l" d="M1030,1604 V1617"/>
<path class="l a" d="M1030,1657 V1676"/>
<path class="l a" d="M1156,1689 H1163 Q1171,1689 1171,1681 V1648"/>
<path class="l a" d="M1171,1681 Q1171,1689 1179,1689 H1189"/>
<path class="l a" d="M858,1701 q6,1 6,-6 q0,-6 6,-6 q6,0 6,-6 q0,-6 6,-6 L891,1661"/>
<path class="l a" d="M1081,1699 q6,1 6,-6 q0,-6 6,-6 q6,0 6,-6 q0,-6 6,-6 L1112,1658"/>
</g>
<g id="nodesF">
<text class="L" x="1174" y="1150">F</text>
<text class="m" x="937" y="1154">CO<tspan dy="3" font-size="9">2</tspan></text>
<text x="938" y="1227">CO<tspan dy="3" font-size="10">2</tspan></text>
<text x="1096" y="1215">Polysaccharides</text>
<text class="s" x="1117" y="1232">ADP</text>
<text class="s" x="1114" y="1251">ATP</text>
<text class="s" x="897" y="1247">NADPH</text>
<text class="s" x="964" y="1249">ATP</text>
<text class="s" x="896" y="1279">NADP<tspan dy="-4" font-size="8">+</tspan></text>
<text class="s" x="966" y="1285">ADP</text>
<text x="1103" y="1272">Monosaccharides</text>
<text class="m" x="1234" y="1264">CM</text>
<text x="941" y="1308">3-Phosphoglycerate</text>
<text x="1086" y="1316">Amino acids</text>
<text class="s" x="961" y="1330">ADP</text>
<text class="s" x="961" y="1357">ATP</text>
<text class="s" x="1059" y="1338">ATP</text>
<text class="s" x="1059" y="1363">ADP</text>
<text class="s" x="1152" y="1338">ATP</text>
<text class="s" x="1149" y="1363">ADP</text>
<text x="934" y="1385">Pyruvate</text>
<text x="1091" y="1385">Proteins</text>
<text x="1179" y="1385">Nucleic</text>
<text x="1179" y="1400">acids</text>
<text x="1064" y="1436">Oxaloacetate</text>
<text x="936" y="1452">Acetyl-CoA</text>
<text x="1152" y="1460">Amino acids</text>
<text class="s" x="898" y="1481">NADPH</text>
<text class="s" x="959" y="1483">ATP</text>
<text class="s" x="898" y="1512">NADP<tspan dy="-4" font-size="8">+</tspan></text>
<text class="s" x="961" y="1512">ADP</text>
<text x="1072" y="1487">α-Ketoglutarate</text>
<text x="935" y="1546">Fatty acids</text>
<text class="s" x="1166" y="1527">ADP</text>
<text class="s" x="1157" y="1547">H<tspan dy="-4" font-size="8">+</tspan></text>
<text class="s" x="1166" y="1571">ATP</text>
<text class="s" x="1261" y="1547" style="text-anchor:start">H<tspan dy="-4" font-size="8">+</tspan></text>
<text class="s" x="778" y="1573">NADP<tspan dy="-4" font-size="8">+</tspan></text>
<text class="s" x="863" y="1573">NADPH</text>
<text class="e" x="842" y="1633">E.T.C.</text>
<text class="e" x="838" y="1647">e<tspan dy="-5" font-size="9">-</tspan></text>
<text class="e" x="929" y="1633">PS I</text>
<text class="e" x="895" y="1647">e<tspan dy="-5" font-size="9">-</tspan></text>
<text class="e" x="955" y="1645">e<tspan dy="-5" font-size="9">-</tspan></text>
<text class="s" x="1031" y="1601">H<tspan dy="-4" font-size="8">+</tspan></text>
<text class="e" x="1032" y="1633">E.T.C.</text>
<text class="e" x="1032" y="1645">e<tspan dy="-5" font-size="9">-</tspan></text>
<text class="e" x="1144" y="1633">PS II</text>
<text class="e" x="1117" y="1645">e<tspan dy="-5" font-size="9">-</tspan></text>
<text class="e" x="1172" y="1642">e<tspan dy="-5" font-size="9">-</tspan></text>
<text class="s" x="1030" y="1691">H<tspan dy="-4" font-size="8">+</tspan></text>
<text class="i" x="837" y="1707">Light</text>
<text class="i" x="1060" y="1707">Light</text>
<text class="s" x="1142" y="1693">H<tspan dy="3" font-size="8">2</tspan><tspan dy="-3">O</tspan></text>
<text class="s" x="1208" y="1693">H<tspan dy="-4" font-size="8">+</tspan><tspan dy="4">+O</tspan><tspan dy="3" font-size="8">2</tspan></text>
</g>
</svg>
